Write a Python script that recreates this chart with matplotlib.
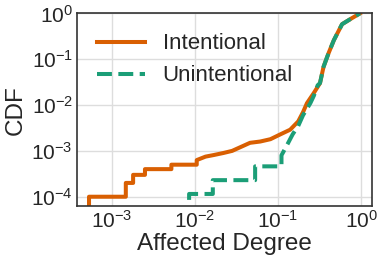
import matplotlib
matplotlib.use('Agg')
import matplotlib.pyplot as plt

# ─── data ────────────────────────────────────────────────────────────────────
# Intentional: affected degree vs CDF (step corners kept explicitly)
X_INT = [5.3e-4, 5.3e-4, 1.47e-3, 1.47e-3, 1.8e-3, 1.8e-3, 2.5e-3, 2.5e-3,
         5.2e-3, 5.2e-3, 1.05e-2, 1.05e-2, 1.34e-2, 1.67e-2, 2.2e-2, 2.8e-2,
         3.5e-2, 4.6e-2, 6.1e-2, 8.1e-2, 0.107, 0.14, 0.175, 0.2, 0.223,
         0.268, 0.32, 0.353, 0.405, 0.47, 0.59, 0.77, 0.97]
Y_INT = [1e-5, 1e-4, 1e-4, 2e-4, 2e-4, 3e-4, 3e-4, 4e-4,
         4e-4, 5e-4, 5e-4, 6.3e-4, 7.5e-4, 8.1e-4, 9e-4, 1e-3,
         1.2e-3, 1.5e-3, 1.6e-3, 1.8e-3, 2.3e-3, 2.9e-3, 4.4e-3, 7e-3, 0.011,
         0.018, 0.03, 0.068, 0.134, 0.26, 0.58, 0.78, 1.0]

# Unintentional
X_UN = [8.5e-3, 8.5e-3, 1.64e-2, 1.64e-2, 5.3e-2, 5.3e-2, 0.11, 0.11,
        0.13, 0.15, 0.175, 0.2, 0.245, 0.27, 0.30, 0.32, 0.353, 0.405,
        0.47, 0.59, 0.77, 0.97]
Y_UN = [1e-5, 1.15e-4, 1.15e-4, 2.3e-4, 2.3e-4, 4.6e-4, 4.6e-4, 8e-4,
        1.4e-3, 2.3e-3, 3.5e-3, 6e-3, 0.011, 0.016, 0.027, 0.03, 0.068, 0.134,
        0.26, 0.58, 0.78, 1.0]

LABELS = ['Intentional', 'Unintentional']
C_INT = '#d95f02'
C_UN = '#1b9e77'
# ──────────────────────────────────────────────────────────────────────────────

plt.rcParams['font.family'] = 'Liberation Sans'
plt.rcParams['mathtext.fontset'] = 'custom'
plt.rcParams['mathtext.rm'] = 'Liberation Sans'
plt.rcParams['mathtext.it'] = 'Liberation Sans'
plt.rcParams['mathtext.bf'] = 'Liberation Sans'
plt.rcParams['mathtext.sf'] = 'Liberation Sans'
plt.rcParams['text.color'] = '#262626'
plt.rcParams['axes.labelcolor'] = '#262626'
plt.rcParams['xtick.color'] = '#262626'
plt.rcParams['ytick.color'] = '#262626'

fig = plt.figure(figsize=(3.82, 2.62), dpi=100)
ax = fig.add_axes([0.2016, 0.214, 0.772, 0.735])

ax.plot(X_INT, Y_INT, color=C_INT, lw=2.9, label=LABELS[0])
ax.plot(X_UN, Y_UN, color=C_UN, lw=2.9, ls='--', label=LABELS[1])

ax.set_xscale('log')
ax.set_yscale('log')
ax.set_xlim(3.8e-4, 1.35)
ax.set_ylim(6.3e-5, 1.0)
ax.set_xticks([1e-3, 1e-2, 1e-1, 1e0])
ax.set_yticks([1e-4, 1e-3, 1e-2, 1e-1, 1e0])
ax.minorticks_off()

ax.grid(True, color='#dddddd', lw=1.0)
ax.set_axisbelow(True)
for s in ax.spines.values():
    s.set_color('#333333')
    s.set_linewidth(1.2)
ax.tick_params(length=0, labelsize=15, pad=3)

ax.set_xlabel('Affected Degree', fontsize=17.5, labelpad=1)
ax.set_ylabel('CDF', fontsize=17.5, labelpad=3)

ax.legend(loc='upper left', bbox_to_anchor=(0.0, 1.0), frameon=False,
          fontsize=16, handlelength=2.15, handletextpad=0.8, labelspacing=0.5,
          borderaxespad=0.5)

fig.savefig('out.png', dpi=100)
